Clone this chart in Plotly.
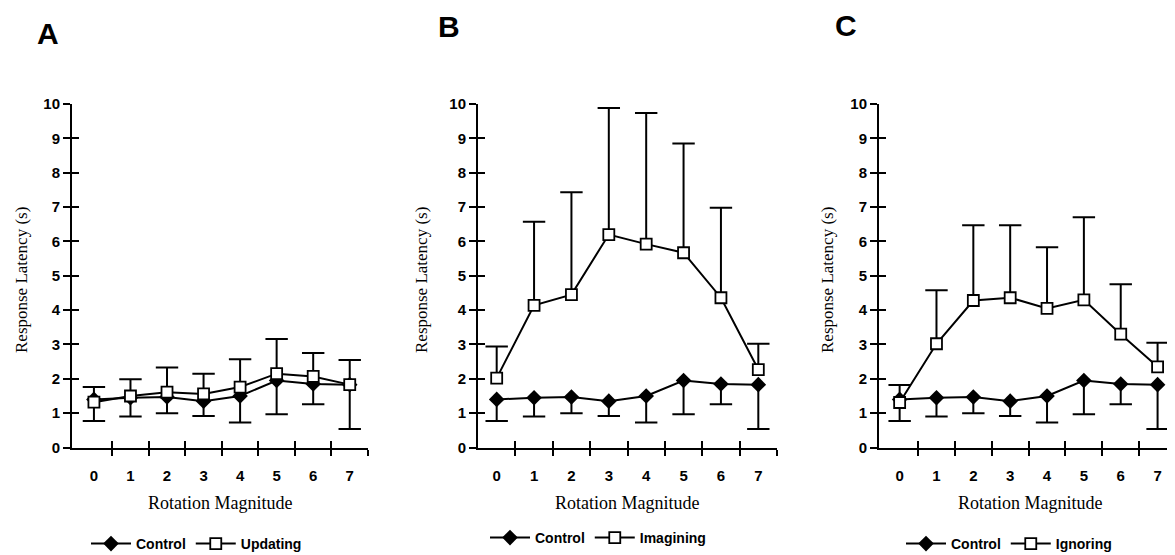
import plotly.graph_objects as go

# ---------------- data ----------------
rotation = [0, 1, 2, 3, 4, 5, 6, 7]
x_tick_labels = ["0", "1", "2", "3", "4", "5", "6", "7"]
y_tick_vals = [0, 1, 2, 3, 4, 5, 6, 7, 8, 9, 10]

control = [1.40, 1.45, 1.47, 1.35, 1.50, 1.95, 1.85, 1.83]
control_lower = [0.77, 0.90, 1.00, 0.92, 0.73, 0.97, 1.26, 0.54]

updating = [1.32, 1.50, 1.61, 1.56, 1.76, 2.15, 2.07, 1.83]
updating_upper = [1.76, 1.99, 2.33, 2.15, 2.57, 3.16, 2.75, 2.55]

imagining = [2.02, 4.14, 4.45, 6.20, 5.92, 5.67, 4.36, 2.27]
imagining_upper = [2.94, 6.57, 7.43, 9.88, 9.74, 8.85, 6.98, 3.02]

ignoring = [1.31, 3.02, 4.28, 4.36, 4.05, 4.30, 3.30, 2.35]
ignoring_upper = [1.82, 4.58, 6.47, 6.47, 5.83, 6.70, 4.75, 3.05]

panels = [
    ("A", "Updating", updating, updating_upper),
    ("B", "Imagining", imagining, imagining_upper),
    ("C", "Ignoring", ignoring, ignoring_upper),
]

# ---------------- layout geometry ----------------
W, H = 1175, 555
OFF = 8  # page body margin


def fx(p):
    return (p - OFF) / W


def fy(p):
    return 1 - (p - OFF) / H


x_domains = [[fx(72), fx(368)], [fx(478), fx(777)], [fx(879), fx(1176)]]
x_ranges = [[-0.6, 7.5], [-0.5, 7.5], [-0.56, 7.5]]
y_domain = [fy(447.5), fy(104)]
letter_pos = [(48, 34), (449, 27), (846, 25)]
ytitle_x = [21, 421, 827]
xtitle_x = [220, 627, 1030]
legend_pos = [(86, 544), (485, 538), (901, 544)]

BLACK = "black"
SANS = "Liberation Sans, Arial, sans-serif"
SERIF = "Liberation Serif, Times New Roman, serif"
minor_x = [v + 0.5 for v in rotation]

fig = go.Figure()
layout = dict(
    template="none",
    width=W, height=H,
    margin=dict(l=0, r=0, t=0, b=0, pad=0, autoexpand=False),
    paper_bgcolor="white", plot_bgcolor="white",
    showlegend=True,
    annotations=[],
)

for i, (letter, name, vals, upper) in enumerate(panels):
    n = i + 1
    xa = "x" if n == 1 else f"x{n}"
    ya = "y" if n == 1 else f"y{n}"
    leg = "legend" if n == 1 else f"legend{n}"

    # control line with downward error stems
    fig.add_trace(go.Scatter(
        x=rotation, y=control, name="Control", xaxis=xa, yaxis=ya, legend=leg,
        mode="lines+markers",
        line=dict(color=BLACK, width=2),
        marker=dict(symbol="diamond", size=12, color=BLACK),
        error_y=dict(type="data", symmetric=False,
                     array=[0] * len(control),
                     arrayminus=[c - l for c, l in zip(control, control_lower)],
                     width=0, thickness=2, color=BLACK),
        hoverinfo="skip",
    ))
    fig.add_trace(go.Scatter(
        x=rotation, y=control_lower, xaxis=xa, yaxis=ya, showlegend=False,
        mode="markers",
        marker=dict(symbol="line-ew", size=16, line=dict(width=2, color=BLACK)),
        hoverinfo="skip",
    ))
    # condition line with upward error stems
    fig.add_trace(go.Scatter(
        x=rotation, y=vals, name=name, xaxis=xa, yaxis=ya, legend=leg,
        mode="lines+markers",
        line=dict(color=BLACK, width=2),
        marker=dict(symbol="square", size=11, color="white",
                    line=dict(width=1.8, color=BLACK)),
        error_y=dict(type="data", symmetric=False,
                     array=[u - v for u, v in zip(upper, vals)],
                     arrayminus=[0] * len(vals),
                     width=0, thickness=2, color=BLACK),
        hoverinfo="skip",
    ))
    fig.add_trace(go.Scatter(
        x=rotation, y=upper, xaxis=xa, yaxis=ya, showlegend=False,
        mode="markers",
        marker=dict(symbol="line-ew", size=16, line=dict(width=2, color=BLACK)),
        hoverinfo="skip",
    ))

    # main axes
    layout["xaxis" if n == 1 else f"xaxis{n}"] = dict(
        domain=x_domains[i], range=x_ranges[i], anchor=ya, automargin=False,
        showline=True, linecolor=BLACK, linewidth=2,
        showgrid=False, zeroline=False,
        tickmode="array", tickvals=rotation, ticktext=x_tick_labels,
        ticks="", ticklabelstandoff=13,
        tickfont=dict(family=SANS, size=15, color=BLACK, weight="bold"),
        minor=dict(tickmode="array", tickvals=minor_x, ticks="outside",
                   ticklen=6, tickwidth=2, tickcolor=BLACK, showgrid=False),
    )
    layout["yaxis" if n == 1 else f"yaxis{n}"] = dict(
        domain=y_domain, range=[0, 10], anchor=xa, automargin=False,
        showline=True, linecolor=BLACK, linewidth=2,
        showgrid=False, zeroline=False,
        tickmode="array", tickvals=y_tick_vals,
        ticks="outside", ticklen=7, tickwidth=2, tickcolor=BLACK,
        tickfont=dict(family=SANS, size=15, color=BLACK, weight="bold"),
    )
    # overlay axes for the inner half of the crossing ticks
    m = n + 3
    layout[f"xaxis{m}"] = dict(
        overlaying=xa, range=x_ranges[i], anchor=f"y{m}", automargin=False,
        showline=False, showgrid=False, zeroline=False, showticklabels=False,
        tickmode="array", tickvals=minor_x,
        ticks="inside", ticklen=7, tickwidth=2, tickcolor=BLACK,
    )
    layout[f"yaxis{m}"] = dict(
        overlaying=ya, range=[0, 10], anchor=f"x{m}", automargin=False,
        showline=False, showgrid=False, zeroline=False, showticklabels=False,
        tickmode="array", tickvals=y_tick_vals,
        ticks="inside", ticklen=7, tickwidth=2, tickcolor=BLACK,
    )
    fig.add_trace(go.Scatter(x=[None], y=[None], xaxis=f"x{m}", yaxis=f"y{m}",
                             showlegend=False, hoverinfo="skip"))

    # legend
    lx, ly = legend_pos[i]
    layout[leg] = dict(
        x=fx(lx), y=fy(ly), xanchor="left", yanchor="middle",
        orientation="h", bgcolor="rgba(0,0,0,0)", borderwidth=0,
        font=dict(family=SANS, size=14, color=BLACK, weight="bold"),
        itemwidth=40, tracegroupgap=0,
    )

    # texts
    px, py = letter_pos[i]
    layout["annotations"].append(dict(
        text=letter, x=fx(px), y=fy(py), xref="paper", yref="paper",
        xanchor="center", yanchor="middle", showarrow=False,
        font=dict(family=SANS, size=30, color=BLACK, weight="bold"),
    ))
    layout["annotations"].append(dict(
        text="Response Latency (s)", x=fx(ytitle_x[i]), y=fy(280),
        xref="paper", yref="paper", xanchor="center", yanchor="middle",
        textangle=-90, showarrow=False,
        font=dict(family=SERIF, size=17, color=BLACK),
    ))
    layout["annotations"].append(dict(
        text="Rotation Magnitude", x=fx(xtitle_x[i]), y=fy(503),
        xref="paper", yref="paper", xanchor="center", yanchor="middle",
        showarrow=False,
        font=dict(family=SERIF, size=18, color=BLACK),
    ))

fig.update_layout(**layout)
fig.write_html("out.html")
